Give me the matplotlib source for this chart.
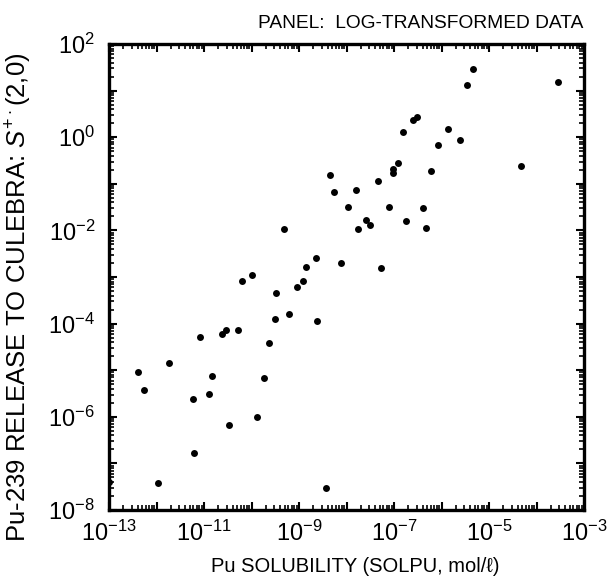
import numpy as np
import matplotlib
matplotlib.use("Agg")
import matplotlib.pyplot as plt

plt.rcParams['font.family'] = ['Liberation Sans', 'DejaVu Sans']
plt.rcParams['mathtext.fontset'] = 'custom'
plt.rcParams['mathtext.rm'] = 'Liberation Sans'
plt.rcParams['mathtext.it'] = 'Liberation Sans:italic'
plt.rcParams['axes.unicode_minus'] = False

# log10 of solubility (mol/l) and log10 of release
log_solpu = [-5.33, -5.46, -3.55, -6.61, -6.51, -6.81, -5.86, -5.62, -6.07, -6.91,
             -7.02, -7.03, -6.23, -4.33, -8.35, -8.26, -7.80, -7.33, -7.96, -7.11,
             -6.40, -7.60, -7.50, -7.76, -6.74, -6.32, -8.64, -8.86, -8.12, -7.28,
             -8.91, -9.31, -10.19, -10.00, -9.48, -9.05, -9.22, -9.51, -8.62, -11.08,
             -10.63, -10.54, -10.28, -9.63, -11.74, -12.38, -12.26, -10.83, -9.74, -11.24,
             -10.90, -9.89, -10.47, -11.21, -11.96, -8.43, -13.00]
log_release = [1.46, 1.11, 1.19, 0.37, 0.43, 0.12, 0.18, -0.05, -0.17, -0.55,
               -0.68, -0.76, -0.73, -0.61, -0.82, -1.18, -1.13, -0.95, -1.49, -1.49,
               -1.51, -1.78, -1.89, -1.97, -1.80, -1.94, -2.59, -2.79, -2.69, -2.81,
               -3.09, -1.97, -3.08, -2.96, -3.34, -3.21, -3.79, -3.90, -3.95, -4.29,
               -4.23, -4.13, -4.13, -4.42, -4.85, -5.04, -5.42, -5.12, -5.17, -5.62,
               -5.52, -6.00, -6.18, -6.78, -7.42, -7.53, -7.40]

x_decades = list(range(-13, -2))
y_decades = list(range(-8, 3))

solpu = 10.0 ** np.array(log_solpu)
release = 10.0 ** np.array(log_release)

fig = plt.figure(figsize=(6.07, 5.87), dpi=100)
ax = fig.add_axes([109/607, 1 - 510/587, 475/607, 466/587])

ax.plot(solpu, release, 'o', color='black', ms=5, mew=0)

ax.set_xscale('log')
ax.set_yscale('log')
ax.set_xlim(1e-13, 1e-3)
ax.set_ylim(1e-8, 1e2)

# major ticks every decade, labels every other one
ax.set_xticks([10.0 ** k for k in x_decades])
ax.set_xticklabels([r'$\mathdefault{10^{%d}}$' % k if k % 2 == 1 else '' for k in x_decades])
ax.set_yticks([10.0 ** k for k in y_decades])
ax.set_yticklabels([r'$\mathdefault{10^{%d}}$' % k if k % 2 == 0 else '' for k in y_decades])

# minor ticks 2..9 in each decade
ax.set_xticks([m * 10.0 ** k for k in x_decades[:-1] for m in range(2, 10)], minor=True)
ax.set_yticks([m * 10.0 ** k for k in y_decades[:-1] for m in range(2, 10)], minor=True)
ax.set_xticklabels([], minor=True)
ax.set_yticklabels([], minor=True)

ax.tick_params(which='both', direction='in', top=True, right=True, color='black')
ax.tick_params(which='major', length=6, width=1.5, labelsize=17)
ax.tick_params(axis='x', which='major', pad=8)
ax.tick_params(axis='y', which='major', pad=10)
ax.tick_params(which='minor', length=3.5, width=1.2)
for s in ax.spines.values():
    s.set_linewidth(2.4)

ax.set_xlabel('Pu SOLUBILITY (SOLPU, mol/\u2113)', fontsize=14.5, va='top')
ax.xaxis.set_label_coords(0.518, -0.1)
ax.set_ylabel(r'Pu-239 RELEASE TO CULEBRA: $\mathit{S}^{+\cdot}$(2,0)', fontsize=18.5)
ax.yaxis.set_label_coords(-0.158, 0.457)
fig.text(583/607, 1 - 28/587, 'PANEL:  LOG-TRANSFORMED DATA', ha='right',
         va='baseline', fontsize=13.8)

fig.savefig('out.png', dpi=100)
